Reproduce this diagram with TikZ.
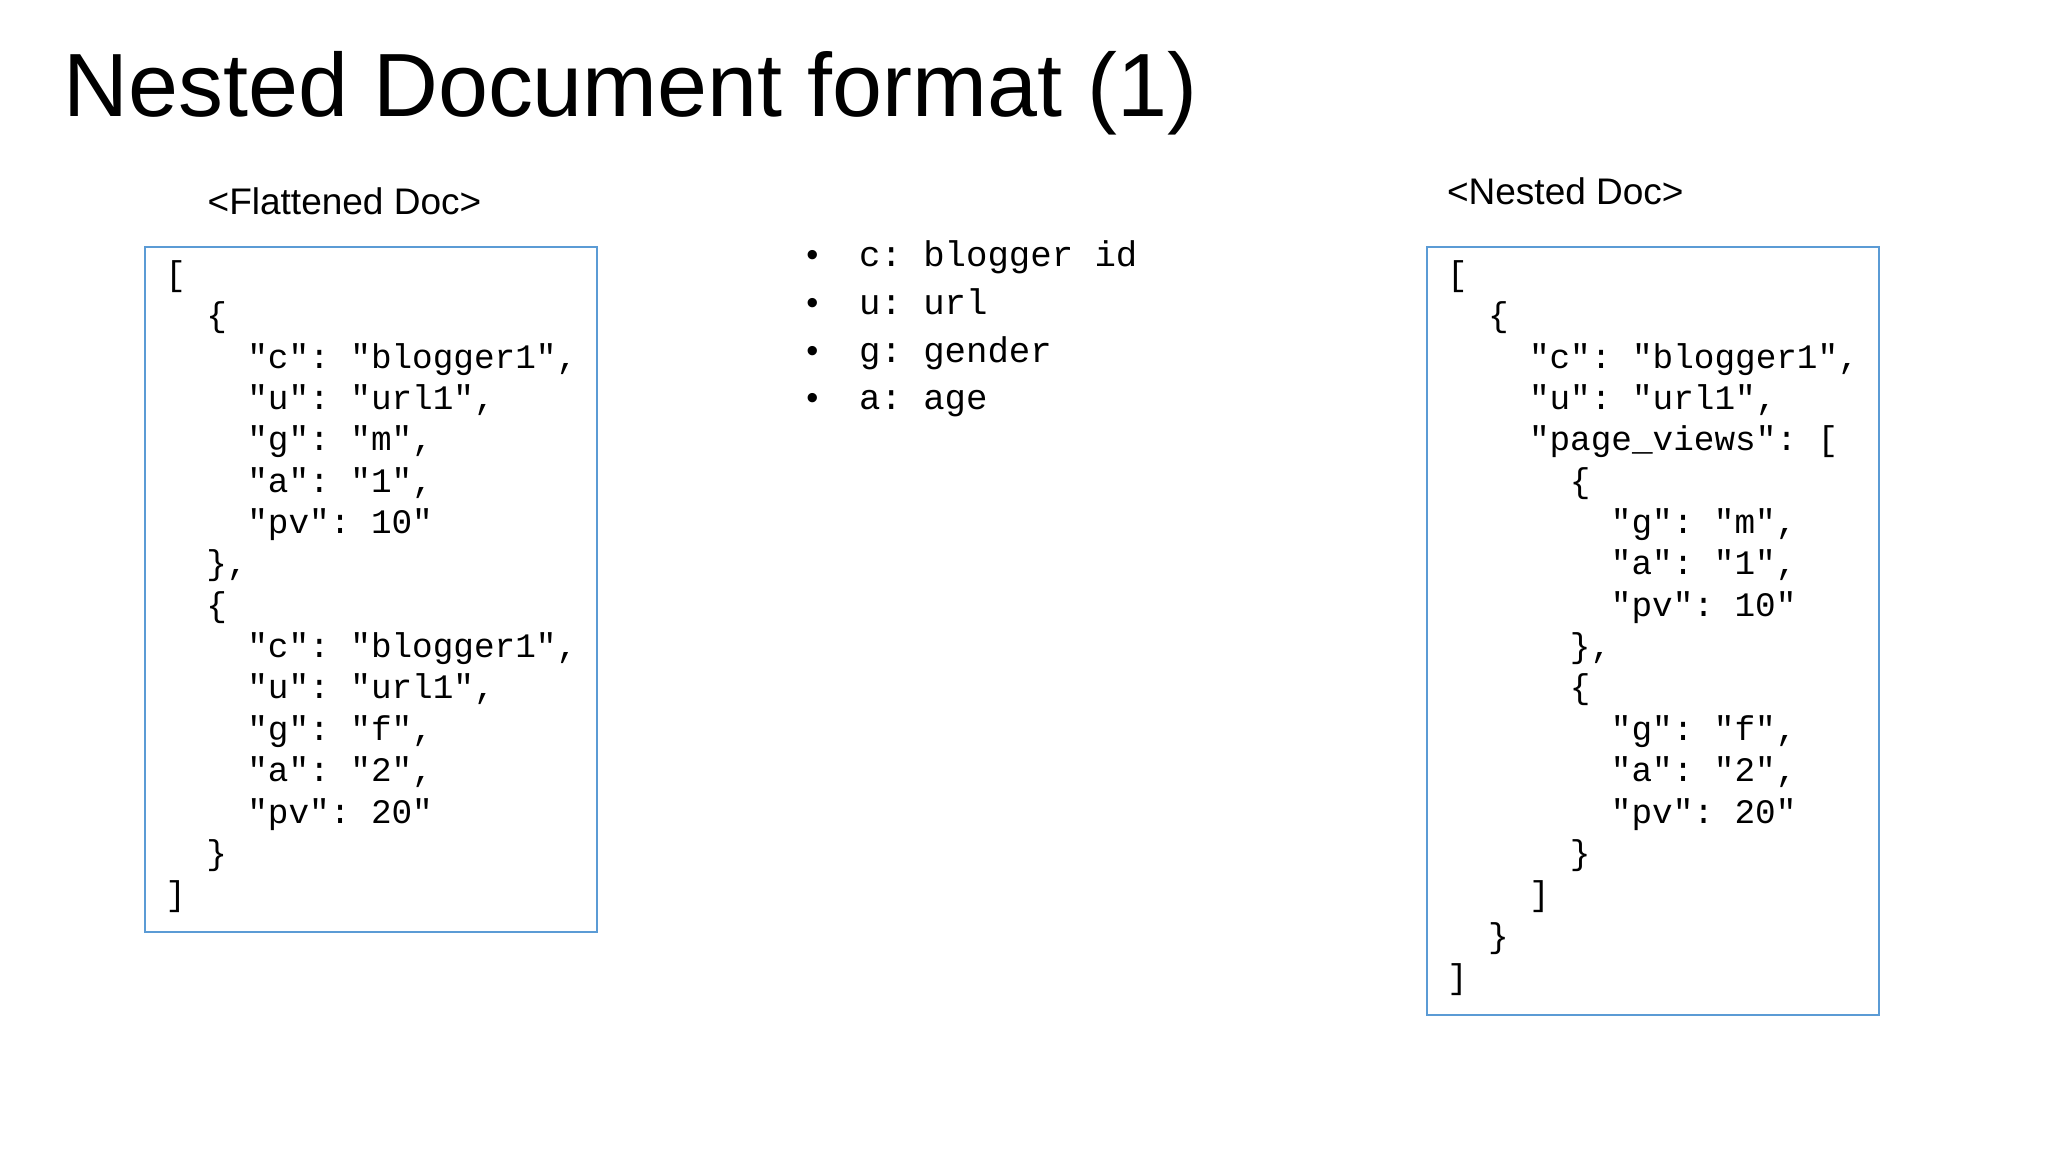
\documentclass[tikz,border=0pt]{standalone}
\usepackage{fontspec}
\setmainfont{Liberation Sans}
\setmonofont{Liberation Mono}
\definecolor{boxblue}{HTML}{5B9BD5}
\begin{document}
\begin{tikzpicture}[x=1pt,y=-1pt,
  code/.style={anchor=base west,inner sep=0pt,font=\fontsize{26}{30}\ttfamily},
  docbox/.style={draw=boxblue,line width=1.5pt}]
\useasboundingbox (0,0) rectangle (1550,872);
\node[anchor=base west,inner sep=0pt,font=\fontsize{68}{80}\selectfont] (title) at (48,88) {Nested Document format (1)};
\node[anchor=base west,inner sep=0pt,font=\fontsize{28}{32}\selectfont] (flab) at (157,162) {<Flattened Doc>};
\node[anchor=base west,inner sep=0pt,font=\fontsize{28}{32}\selectfont] (nlab) at (1095,155) {<Nested Doc>};
\draw[docbox] (110,187) rectangle (452,705);
\draw[docbox] (1080,187) rectangle (1422,768);
\foreach \n/\i/\t in {1/0/{[},2/1/{\{},3/2/{"c": "blogger1",},4/2/{"u": "url1",},5/2/{"g": "m",},6/2/{"a": "1",},7/2/{"pv": 10"},8/1/{\},},9/1/{\{},10/2/{"c": "blogger1",},11/2/{"u": "url1",},12/2/{"g": "f",},13/2/{"a": "2",},14/2/{"pv": 20"},15/1/{\}},16/0/{]}}
  \node[code] (f\n) at ({125+31*\i},{216+31.3*(\n-1)}) {\t};
\foreach \n/\i/\t in {1/0/{[},2/1/{\{},3/2/{"c": "blogger1",},4/2/{"u": "url1",},5/2/{"page\_views": [},6/3/{\{},7/4/{"g": "m",},8/4/{"a": "1",},9/4/{"pv": 10"},10/3/{\},},11/3/{\{},12/4/{"g": "f",},13/4/{"a": "2",},14/4/{"pv": 20"},15/3/{\}},16/2/{]},17/1/{\}},18/0/{]}}
  \node[code] (n\n) at ({1095+31*\i},{216+31.3*(\n-1)}) {\t};
\foreach \n/\t in {1/{c: blogger id},2/{u: url},3/{g: gender},4/{a: age}}{
  \node[anchor=base west,inner sep=0pt,font=\fontsize{26}{30}\selectfont] (b\n) at (610,{202+36*(\n-1)}) {•};
  \node[code,font=\fontsize{27}{30}\ttfamily] (t\n) at (650,{202+36*(\n-1)}) {\t};
}
\end{tikzpicture}
\end{document}
